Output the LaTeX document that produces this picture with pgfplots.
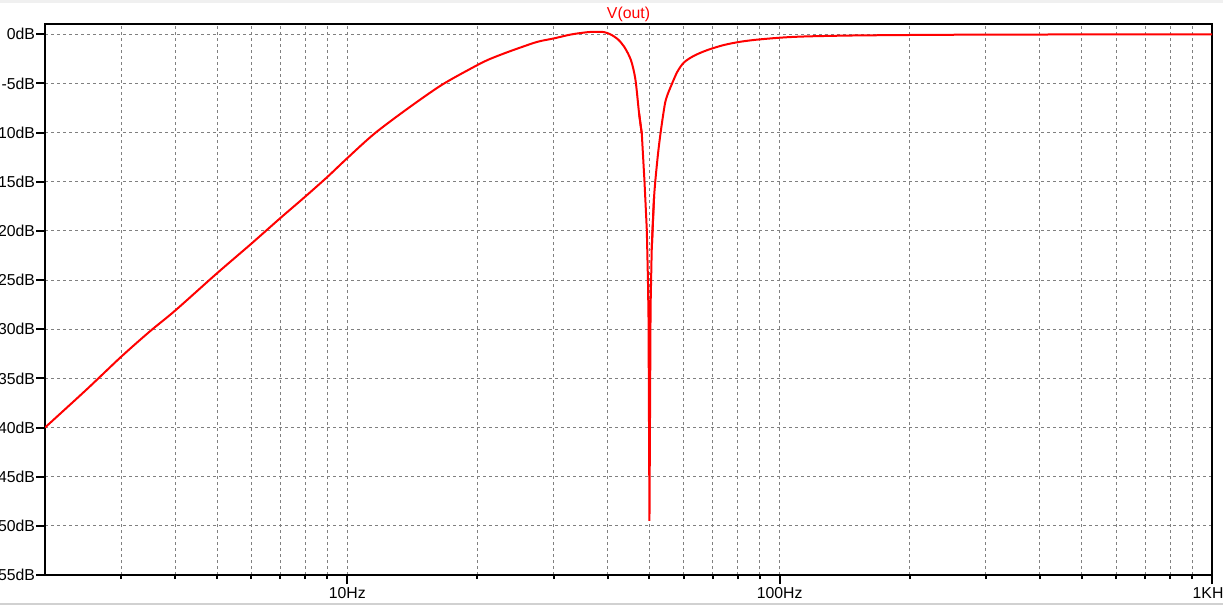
\documentclass[border=0pt]{standalone}
\usepackage{pgfplots}
\pgfplotsset{compat=1.18}
\usepackage{fontspec}
\setmainfont{Liberation Sans}
\definecolor{gridgray}{RGB}{128,128,128}
\definecolor{curvered}{RGB}{255,0,0}
\pgfplotstableread{
f db
2 -40.0
2.5 -36.1
3 -32.8
3.5 -30.2
4 -28.1
5 -24.3
6 -21.3
7 -18.7
8 -16.5
9 -14.5
10 -12.6
11.56 -10.1
13.8 -7.55
16.5 -5.18
19.34 -3.47
21.1 -2.62
23.07 -1.94
25.2 -1.33
27.6 -0.75
30.1 -0.41
32.9 -0.02
36.0 0.22
38.0 0.26
39.3 0.22
40.6 0.0
42.2 -0.48
43.7 -1.26
45.3 -2.62
46.4 -4.6
47.3 -8.0
48.0 -10.1
}\vouta
\pgfplotstableread{
f db
47.3 -8.0
48.0 -10.1
48.7 -15.0
49.3 -19.9
49.6 -25.0
49.75 -28.9
50.0 -49.5
50.3 -27.7
50.6 -21.95
51.25 -16.5
}\voutb
\pgfplotstableread{
f db
50.6 -21.95
51.25 -16.5
52.2 -12.6
53.1 -9.9
54.26 -7.14
55.0 -6.19
56.2 -5.17
58.0 -3.81
60.1 -2.86
63.4 -2.18
68.1 -1.60
74.3 -1.09
81.3 -0.75
88.8 -0.54
100.4 -0.34
110.8 -0.24
124 -0.18
154 -0.11
236 -0.05
400 -0.02
1000 0.0
}\voutc
\begin{document}
\begin{tikzpicture}
\useasboundingbox (0,0) rectangle (611.5pt,303.5pt);
\fill[black!6] (0,302pt) rectangle (611.5pt,303.5pt);
\draw[black!18, line width=0.6pt] (0,1.5pt) -- (611.5pt,1.5pt);
\begin{axis}[
  at={(22.5pt,16pt)}, anchor=south west,
  scale only axis, width=583.5pt, height=275.5pt,
  xmode=log, log basis x=10,
  xmin=2, xmax=1000, ymin=-55, ymax=1.05,
  xtick={10,100,1000}, xticklabels={10Hz,100Hz,1KHz},
  minor xtick={3,4,5,6,7,8,9,20,30,40,50,60,70,80,90,200,300,400,500,600,700,800,900},
  ytick={-55,-50,-45,-40,-35,-30,-25,-20,-15,-10,-5,0},
  yticklabels={-55dB,-50dB,-45dB,-40dB,-35dB,-30dB,-25dB,-20dB,-15dB,-10dB,-5dB,0dB},
  xtick pos=left, ytick pos=left,
  tick align=outside,
  major tick length=4.5pt, minor tick length=2pt,
  every tick/.style={black, line width=1pt},
  axis line style={black, line width=1pt},
  grid=both,
  major grid style={gridgray, line width=0.5pt, dash pattern=on 1.5pt off 1.5pt},
  minor grid style={gridgray, line width=0.5pt, dash pattern=on 1.5pt off 1.5pt},
  tick label style={font=\fontsize{7.9}{9}\selectfont, black},
  yticklabel style={inner sep=0pt, xshift=-0.3pt},
  xticklabel style={inner sep=1.5pt},
  every axis title shift=0pt,
  title={V(out)},
  title style={inner sep=1pt, text=curvered, font=\fontsize{7.9}{9}\selectfont},
]
\addplot[curvered, line width=1pt, no marks, smooth, tension=0.5] table[x=f, y=db] {\vouta};
\addplot[curvered, line width=1pt, no marks] table[x=f, y=db] {\voutb};
\addplot[curvered, line width=1pt, no marks, smooth, tension=0.5] table[x=f, y=db] {\voutc};
\end{axis}
\end{tikzpicture}
\end{document}
